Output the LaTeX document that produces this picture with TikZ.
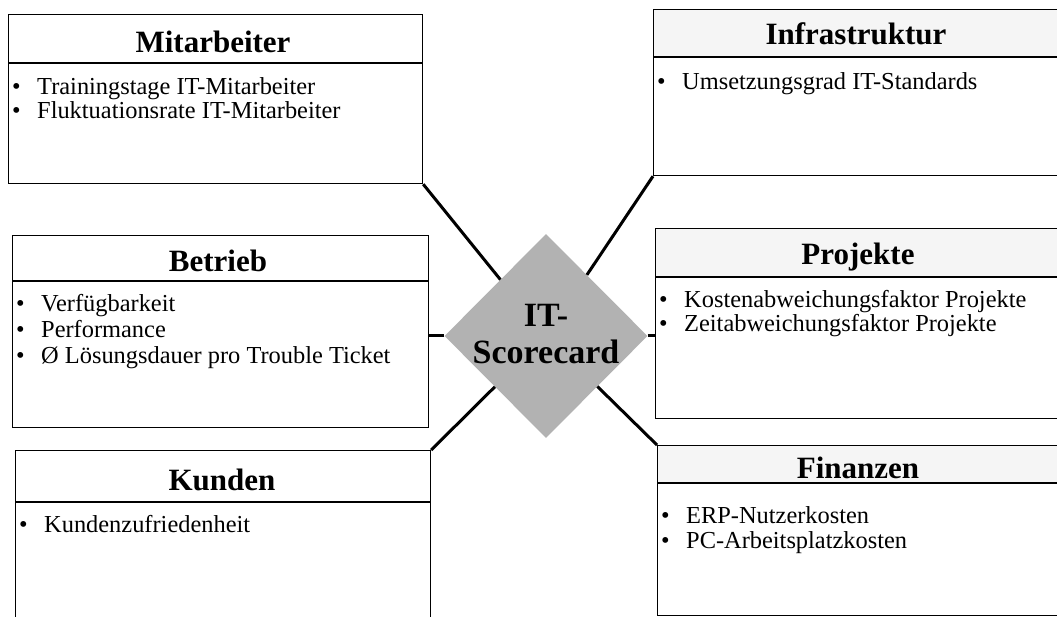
\documentclass[tikz,border=0pt]{standalone}
\usepackage{fontspec}
\setmainfont{Liberation Serif}
\usetikzlibrary{shapes.geometric}
\newcommand\bul{\makebox[25pt][l]{\textbullet}}
\tikzset{
  frame/.style={draw=black, line width=1.2pt, rectangle, inner sep=0pt, anchor=north west},
  sep/.style={draw=black, line width=1.1pt},
  head/.style={font=\fontsize{31}{33}\selectfont\bfseries, anchor=base, inner sep=0pt},
  item/.style={font=\fontsize{24.4}{26}\selectfont, anchor=base west, inner sep=0pt},
  link/.style={draw=black, line width=3pt},
  shade/.style={fill=black!4},
  core/.style={diamond, fill=black!30, draw=none, inner sep=0pt, minimum width=203pt, minimum height=204pt},
  coretext/.style={font=\fontsize{34}{36}\selectfont\bfseries, anchor=base, inner sep=0pt}
}
\begin{document}
\begin{tikzpicture}[x=1pt,y=-1pt]
\useasboundingbox (0,0) rectangle (1057,617);
\clip (0,0) rectangle (1057,617);
\fill[white] (0,0) rectangle (1057,617);

% ---- Mitarbeiter
\node[frame, minimum width=414pt, minimum height=169pt] (mit) at (8,14) {};
\draw[sep] (8,63) -- (422,63);
\node[head] at (213,53) {Mitarbeiter};
\node[item] at (12,95) {\bul Trainingstage IT-Mitarbeiter};
\node[item] at (12,119) {\bul Fluktuationsrate IT-Mitarbeiter};

% ---- Infrastruktur
\fill[shade] (653,9) rectangle (1070,57);
\node[frame, minimum width=417pt, minimum height=166pt] (inf) at (653,9) {};
\draw[sep] (653,57) -- (1070,57);
\node[head] at (856,45) {Infrastruktur};
\node[item] at (657,90) {\bul Umsetzungsgrad IT-Standards};

% ---- Betrieb
\node[frame, minimum width=416pt, minimum height=192pt] (bet) at (12,235) {};
\draw[sep] (12,281) -- (428,281);
\node[head] at (218,272) {Betrieb};
\node[item] at (16,312) {\bul Verfügbarkeit};
\node[item] at (16,337.5) {\bul Performance};
\node[item] at (16,363) {\bul Ø Lösungsdauer pro Trouble Ticket};

% ---- Projekte
\fill[shade] (655,228) rectangle (1070,277);
\node[frame, minimum width=415pt, minimum height=190pt] (pro) at (655,228) {};
\draw[sep] (655,277) -- (1070,277);
\node[head] at (858,265) {Projekte};
\node[item] at (659,308) {\bul Kostenabweichungsfaktor Projekte};
\node[item] at (659,332) {\bul Zeitabweichungsfaktor Projekte};

% ---- Kunden
\node[frame, minimum width=415pt, minimum height=180pt] (kun) at (15,450) {};
\draw[sep] (15,502) -- (430,502);
\node[head] at (222,490) {Kunden};
\node[item] at (19,532) {\bul Kundenzufriedenheit};

% ---- Finanzen
\fill[shade] (657,445) rectangle (1070,483);
\node[frame, minimum width=413pt, minimum height=170pt] (fin) at (657,445) {};
\draw[sep] (657,483) -- (1070,483);
\node[head] at (858,478) {Finanzen};
\node[item] at (661,523) {\bul ERP-Nutzerkosten};
\node[item] at (661,548) {\bul PC-Arbeitsplatzkosten};

% ---- central diamond
\node[core] (sc) at (546,336) {};

% ---- connectors
\draw[link] (mit.south east) -- (sc);
\draw[link] (inf.south west) -- (sc);
\draw[link] (kun.north east) -- (sc);
\draw[link] (fin.north west) -- (sc);
\draw[link] (sc.west) -- (sc.west -| bet.east);
\draw[link] (sc.east) -- (sc.east -| pro.west);

% ---- diamond label
\node[coretext] (t1) at (546,327) {IT-};
\node[coretext] (t2) at (546,363) {Scorecard};
\end{tikzpicture}
\end{document}
